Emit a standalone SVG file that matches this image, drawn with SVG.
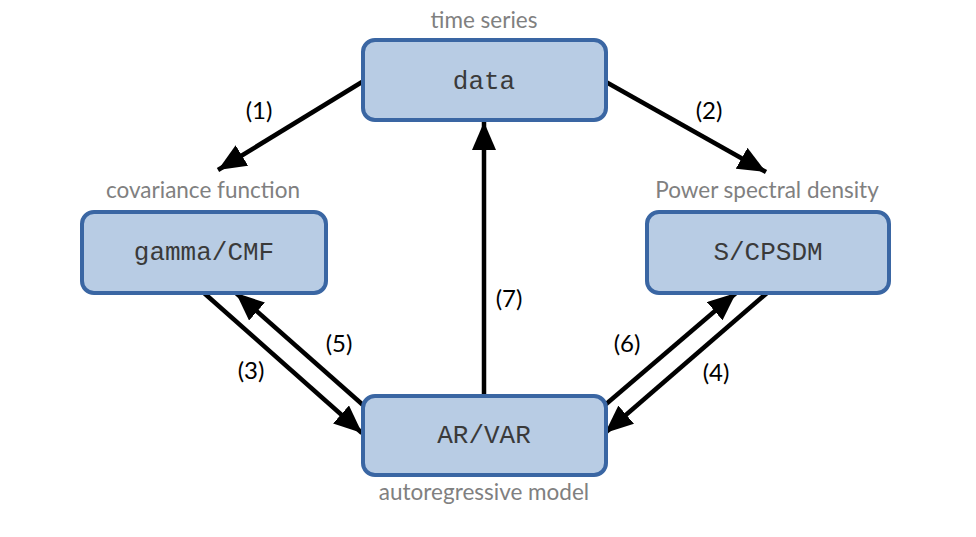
<svg xmlns="http://www.w3.org/2000/svg" width="976" height="537" viewBox="0 0 976 537">
<style>
.box{fill:#b8cce4;stroke:#3a66a3;stroke-width:4}
.mono{font-family:"Liberation Mono","Courier New",monospace;font-size:26px;fill:#3a3a3a;text-anchor:middle}
.cap{font-family:Lato,"Open Sans",sans-serif;font-size:22.5px;fill:#808080;text-anchor:middle}
.num{font-family:Lato,"Open Sans",sans-serif;font-size:24px;fill:#000;text-anchor:middle}
.conn line{stroke:#000;stroke-width:4.5;marker-end:url(#ah)}
</style>
<defs>
<marker id="ah" markerUnits="userSpaceOnUse" markerWidth="30" markerHeight="24" refX="28" refY="12" orient="auto">
<path d="M0,0 L28,12 L0,24 z" fill="#000"/>
</marker>
</defs>
<rect width="976" height="537" fill="#fff"/>
<g class="conn" id="connectors">
<line x1="362" y1="82" x2="218" y2="170"/>
<line x1="606" y1="82" x2="766" y2="172"/>
<line x1="484" y1="396" x2="484" y2="122"/>
<line x1="204" y1="293" x2="362" y2="433"/>
<line x1="363" y1="405" x2="236" y2="293"/>
<line x1="605" y1="405" x2="736" y2="293"/>
<line x1="767" y1="293" x2="605" y2="433"/>
</g>
<g id="labels">
<text class="num" x="259" y="119">(1)</text>
<text class="num" x="709" y="119">(2)</text>
<text class="num" x="509" y="307">(7)</text>
<text class="num" x="339" y="352">(5)</text>
<text class="num" x="251" y="379">(3)</text>
<text class="num" x="627" y="352">(6)</text>
<text class="num" x="716" y="381">(4)</text>
</g>
<g id="data">
<text class="cap" x="484" y="28">time series</text>
<rect class="box" x="363" y="40" width="243" height="80" rx="12"/>
<text class="mono" x="484" y="89">data</text>
</g>
<g id="gamma">
<text class="cap" x="203" y="198">covariance function</text>
<rect class="box" x="82" y="212" width="244" height="81" rx="12"/>
<text class="mono" x="204" y="260">gamma/CMF</text>
</g>
<g id="scpsdm">
<text class="cap" x="767" y="198">Power spectral density</text>
<rect class="box" x="647" y="212" width="242" height="81" rx="12"/>
<text class="mono" x="768" y="260">S/CPSDM</text>
</g>
<g id="arvar">
<rect class="box" x="363" y="396" width="243" height="79" rx="12"/>
<text class="mono" x="484" y="443">AR/VAR</text>
<text class="cap" x="484" y="500">autoregressive model</text>
</g>
</svg>
